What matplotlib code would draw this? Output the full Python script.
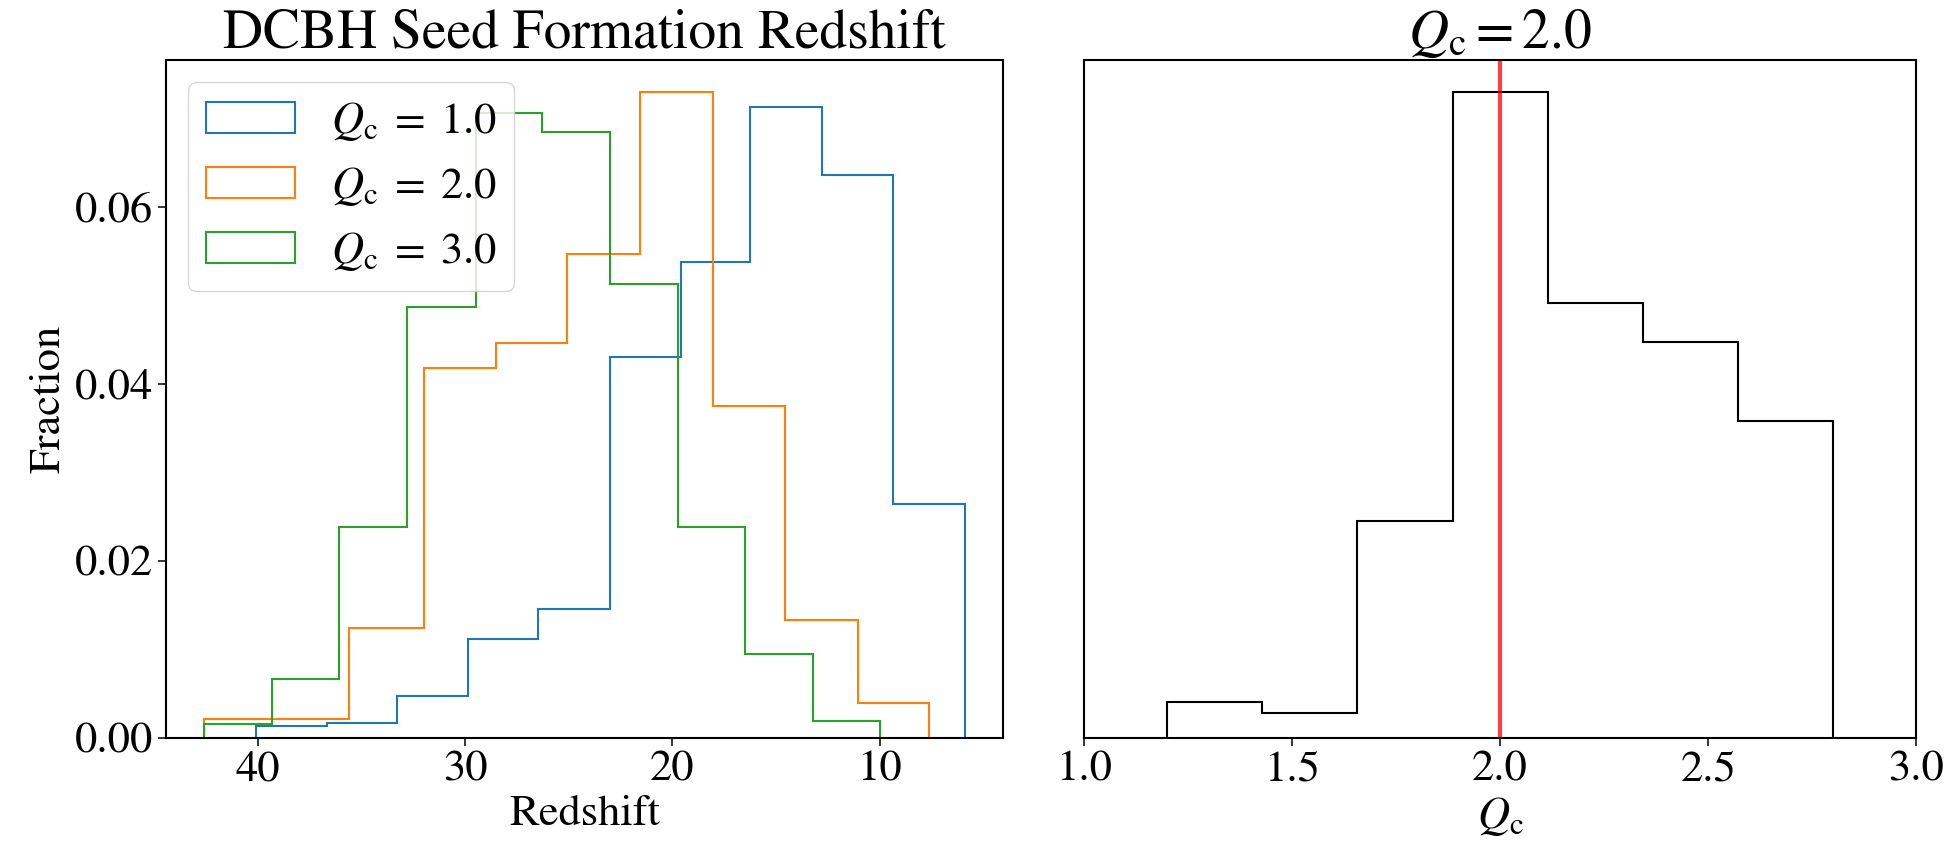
import matplotlib
matplotlib.use("Agg")
import matplotlib.pyplot as plt

# Formation redshift distributions for three critical Q values
z_edges_q1 = [5.87, 9.36, 12.76, 16.25, 19.6, 23.0, 26.47, 29.84, 33.3, 36.67, 40.08]
frac_q1 = [0.0264, 0.0636, 0.0713, 0.0538, 0.0431, 0.0146, 0.0112, 0.0047, 0.0017, 0.0014]

z_edges_q2 = [7.6, 11.05, 14.55, 18.04, 21.54, 25.1, 28.51, 31.99, 35.6, 39.1, 42.59]
frac_q2 = [0.0039, 0.0133, 0.0375, 0.0730, 0.0547, 0.0447, 0.0418, 0.0124, 0.0022, 0.0022]

z_edges_q3 = [9.99, 13.23, 16.49, 19.73, 23.0, 26.3, 29.47, 32.82, 36.08, 39.33, 42.59]
frac_q3 = [0.0019, 0.0095, 0.0239, 0.0513, 0.0685, 0.0707, 0.0487, 0.0239, 0.0067, 0.0016]

series_labels = [r"$Q_\mathrm{c} \;=\; 1.0$", r"$Q_\mathrm{c} \;=\; 2.0$", r"$Q_\mathrm{c} \;=\; 3.0$"]

# Distribution of Q_c for the chosen run
qc_edges = [1.2, 1.4286, 1.6571, 1.8857, 2.1143, 2.3429, 2.5714, 2.8]
frac_qc = [0.0041, 0.0028, 0.0245, 0.0730, 0.0492, 0.0448, 0.0358]
qc_chosen = 2.0

plt.rcParams["font.family"] = "STIXGeneral"
plt.rcParams["mathtext.fontset"] = "stix"
plt.rcParams["font.size"] = 32
plt.rcParams["axes.linewidth"] = 1.5
plt.rcParams["xtick.major.size"] = 6
plt.rcParams["ytick.major.size"] = 6
plt.rcParams["xtick.major.width"] = 1.1
plt.rcParams["ytick.major.width"] = 1.1

fig = plt.figure(figsize=(19.54, 8.43), dpi=100)
ax1 = fig.add_axes([0.085, 0.1246, 0.4284, 0.8043])
ax2 = fig.add_axes([0.5548, 0.1246, 0.4258, 0.8043])

# Left: redshift histograms (stored as bin fractions)
for edges, frac, label in zip([z_edges_q1, z_edges_q2, z_edges_q3],
                              [frac_q1, frac_q2, frac_q3], series_labels):
    ax1.hist(edges[:-1], bins=edges, weights=frac, histtype="step",
             linewidth=1.5, label=label)

ax1.invert_xaxis()
ax1.set_xlabel("Redshift")
ax1.set_ylabel("Fraction")
ax1.set_title("DCBH Seed Formation Redshift", fontsize=40)
ax1.legend(loc="upper left")

# Right: Q_c histogram with the chosen value marked
ax2.hist(qc_edges[:-1], bins=qc_edges, weights=frac_qc, histtype="step",
         color="black", linewidth=1.5)
ax2.axvline(qc_chosen, color="red", alpha=0.75, linewidth=3)
ax2.set_xlim(1.0, 3.0)
ax2.set_yticks([])
ax2.set_xlabel(r"$Q_\mathrm{c}$")
ax2.set_title(r"$Q_\mathrm{c} = 2.0$", fontsize=40)

fig.savefig("out.png", dpi=100)
